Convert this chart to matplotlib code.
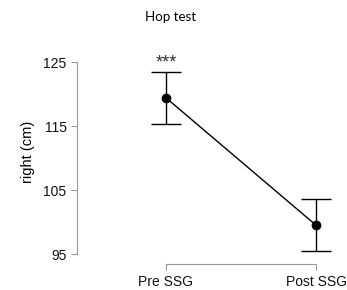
import matplotlib
matplotlib.use("Agg")
import matplotlib.pyplot as plt

categories = ["Pre SSG", "Post SSG"]
means = [119.4, 99.5]
lower = [115.3, 95.5]
upper = [123.4, 103.6]
yticks = [95, 105, 115, 125]

W, H = 347, 290
fig = plt.figure(figsize=(W/100, H/100), dpi=100)
left_px, right_px, top_px, bottom_px = 77, 340, 40, 264
ax = fig.add_axes([left_px/W, 1-bottom_px/H, (right_px-left_px)/W, (bottom_px-top_px)/H])

x = list(range(len(categories)))
yerr = [[m - l for m, l in zip(means, lower)], [u - m for m, u in zip(means, upper)]]
ax.errorbar(x, means, yerr=yerr, fmt='-o', color='black', ms=6, lw=1.0,
            capsize=10.5, capthick=1.0, elinewidth=1.0)

px_per_x = 150.0
ax.set_xlim(-(166-left_px)/px_per_x, (right_px-166)/px_per_x)
py = 6.4
ax.set_ylim(95 - (bottom_px-254)/py, 125 + (62-top_px)/py)

ax.set_yticks(yticks)
ax.set_xticks(x)
ax.set_xticklabels(categories)
for s in ['top', 'right']:
    ax.spines[s].set_visible(False)
ax.spines['left'].set_bounds(95, 125)
ax.spines['bottom'].set_bounds(0, 1)
for s in ['left', 'bottom']:
    ax.spines[s].set_color('#999999')
    ax.spines[s].set_linewidth(0.8)
ax.tick_params(colors='#999999', length=4, width=0.8, labelsize=10)
ax.tick_params(axis='x', pad=4)
for lab in ax.get_xticklabels() + ax.get_yticklabels():
    lab.set_color('#111111')
    lab.set_family('Liberation Sans')
ax.set_ylabel('right (cm)', fontsize=10.5, family='Liberation Sans', labelpad=6)
ax.text(0, 124.2, '***', ha='center', va='baseline', fontsize=13, color='#333333',
        family='Liberation Sans')
fig.text(171/W, 1-17/H, 'Hop test', ha='center', va='center', fontsize=9.6, family='Lato')
fig.savefig('out.png', dpi=100)
